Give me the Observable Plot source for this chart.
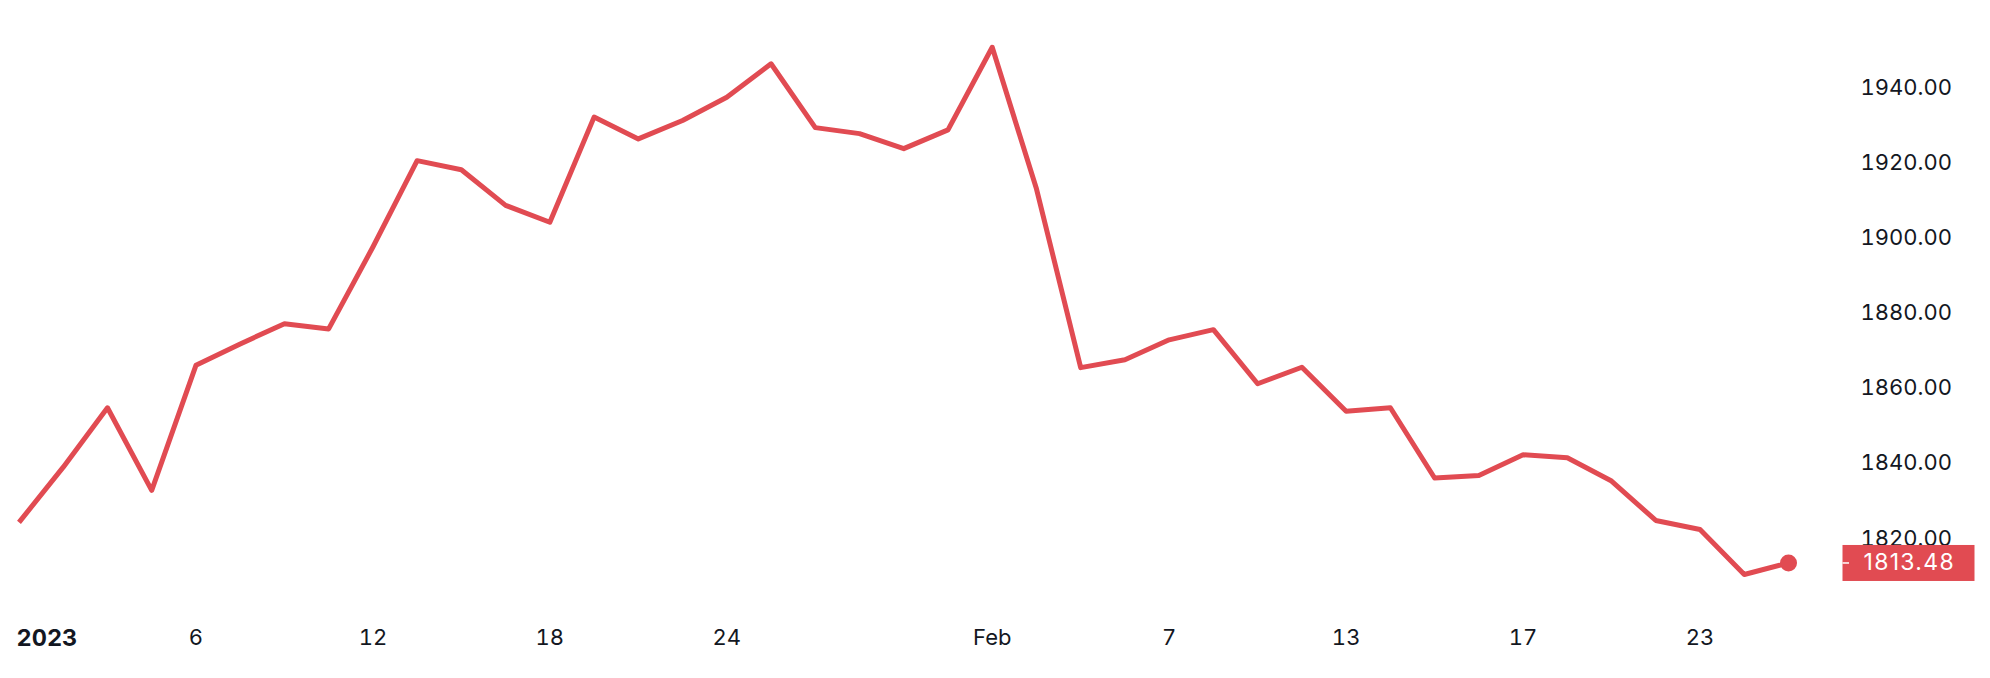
<!DOCTYPE html>
<html>
<head>
<meta charset="utf-8">
<script src="https://cdn.jsdelivr.net/npm/d3@7"></script>
<script src="https://cdn.jsdelivr.net/npm/@observablehq/plot@0.6"></script>
<style>
  html, body { margin: 0; padding: 0; background: #ffffff; }
  #chart { width: 1990px; height: 678px; }
</style>
</head>
<body>
<div id="chart"></div>
<script>
// Trading days (x positions are evenly spaced by trading day)
const dates = [
  "2023-01-02","2023-01-03","2023-01-04","2023-01-05","2023-01-06",
  "2023-01-09","2023-01-10","2023-01-11","2023-01-12","2023-01-13",
  "2023-01-16","2023-01-17","2023-01-18","2023-01-19","2023-01-20",
  "2023-01-23","2023-01-24","2023-01-25","2023-01-26","2023-01-27",
  "2023-01-30","2023-01-31","2023-02-01","2023-02-02","2023-02-03",
  "2023-02-06","2023-02-07","2023-02-08","2023-02-09","2023-02-10",
  "2023-02-13","2023-02-14","2023-02-15","2023-02-16","2023-02-17",
  "2023-02-20","2023-02-21","2023-02-22","2023-02-23","2023-02-24",
  "2023-02-27"
];
const prices = [
  1824.3, 1839.0, 1854.8, 1832.8, 1866.1,
  1871.8, 1877.2, 1875.8, 1897.6, 1920.6,
  1918.2, 1908.7, 1904.2, 1932.2, 1926.4,
  1931.3, 1937.5, 1946.4, 1929.4, 1927.8,
  1923.8, 1928.8, 1950.8, 1913.1, 1865.5,
  1867.6, 1872.9, 1875.6, 1861.2, 1865.6,
  1853.9, 1854.8, 1836.1, 1836.8, 1842.3,
  1841.5, 1835.3, 1824.8, 1822.4, 1810.4,
  1813.48
];
const yearTickDate = "2023-01-02";
const yearTickLabel = "2023";
const xTickDates = ["2023-01-06","2023-01-12","2023-01-18","2023-01-24","2023-02-01","2023-02-07","2023-02-13","2023-02-17","2023-02-23"];
const xTickLabels = ["6","12","18","24","Feb","7","13","17","23"];
const yTicks = [1820, 1840, 1860, 1880, 1900, 1920, 1940];

const RED = "#e14b52";
const INK = "#131722";
const FONT = "Inter, 'Noto Sans', sans-serif";

const rows = dates.map((d, i) => ({i, date: d, value: prices[i]}));
const last = rows[rows.length - 1];
const xTickIdx = xTickDates.map(d => dates.indexOf(d));
const labelByIdx = new Map(xTickIdx.map((k, j) => [k, xTickLabels[j]]));
const yearIdx = dates.indexOf(yearTickDate);

const BOX_DX = 75;

const chart = Plot.plot({
  width: 1990,
  height: 678,
  marginLeft: 18.5,
  marginRight: 202,
  marginTop: 12.2,
  marginBottom: 64.9,
  x: {domain: [0, dates.length - 1]},
  y: {domain: [1800, 1960]},
  style: {fontFamily: FONT, fontSize: "22px", color: INK, background: "#ffffff", overflow: "visible"},
  marks: [
    Plot.axisY({anchor: "right", ticks: yTicks, tickFormat: d => d.toFixed(2), tickSize: 0, tickPadding: 72, label: null, fill: INK}),
    Plot.axisX({ticks: xTickIdx, tickFormat: d => labelByIdx.get(d), tickSize: 0, tickPadding: 15.3, label: null, fill: INK}),
    Plot.axisX({ticks: [yearIdx], tickFormat: () => yearTickLabel, tickSize: 0, tickPadding: 15.3, label: null, fontWeight: "bold", fontSize: 23.5, textAnchor: "start", dx: -2.5, fill: INK}),
    Plot.line(rows, {x: "i", y: "value", stroke: RED, strokeWidth: 5, strokeLinejoin: "round", strokeLinecap: "butt"}),
    Plot.dot([last], {x: "i", y: "value", r: 8.5, fill: RED, stroke: "none"}),
    Plot.text([last], {
      x: "i", y: "value",
      text: d => d.value.toFixed(2),
      textAnchor: "start",
      dx: BOX_DX,
      fill: "#ffffff",
      fontSize: 23,
      render(index, scales, values, dimensions, context, next) {
        const g = next(index, scales, values, dimensions, context);
        g.setAttribute("letter-spacing", "1.3");
        const ns = "http://www.w3.org/2000/svg";
        for (const i of index) {
          const X = values.x[i], Y = values.y[i];
          const left = X - 21;
          const right = dimensions.width - 16 - BOX_DX;
          const rect = document.createElementNS(ns, "rect");
          rect.setAttribute("x", left);
          rect.setAttribute("y", Y - 18);
          rect.setAttribute("width", right - left);
          rect.setAttribute("height", 36);
          rect.setAttribute("fill", RED);
          g.insertBefore(rect, g.firstChild);
          const tick = document.createElementNS(ns, "line");
          tick.setAttribute("x1", left);
          tick.setAttribute("x2", left + 6.5);
          tick.setAttribute("y1", Y);
          tick.setAttribute("y2", Y);
          tick.setAttribute("stroke", "#ffffff");
          tick.setAttribute("stroke-width", 1.5);
          g.insertBefore(tick, rect.nextSibling);
        }
        return g;
      }
    })
  ]
});
document.getElementById("chart").appendChild(chart);
</script>
</body>
</html>
